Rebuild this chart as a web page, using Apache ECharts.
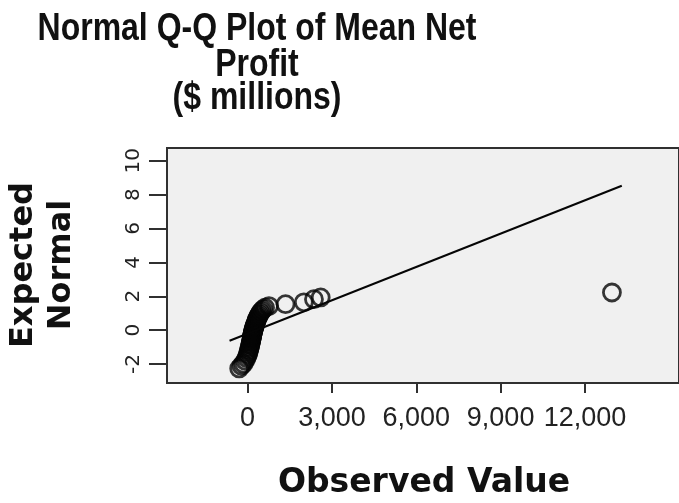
<!DOCTYPE html>
<html>
<head>
<meta charset="utf-8">
<script src="https://cdn.jsdelivr.net/npm/echarts@6/dist/echarts.min.js"></script>
<style>
  html, body { margin: 0; padding: 0; background: #ffffff; }
  #chart { width: 679px; height: 503px; }
</style>
</head>
<body>
<div id="chart"></div>
<script>
// Text content
const titleLines = ['Normal Q-Q Plot of Mean Net', 'Profit', '($ millions)'];
const xAxisTitle = 'Observed Value';
const yAxisTitle = ['Expected', 'Normal'];

// Tick values
const xTicks = [0, 3000, 6000, 9000, 12000];
const yTicks = [-2, 0, 2, 4, 6, 8, 10];

// Observed mean net profit ($ millions), ascending
const observed = [
  -300, -220, -150, -90, -40,
  0, 20, 40, 55, 70,
  85, 95, 105, 115, 125,
  135, 145, 150, 158, 165,
  172, 180, 188, 196, 205,
  215, 225, 235, 246, 258,
  270, 283, 297, 312, 328,
  346, 366, 390, 418, 450,
  490, 545, 620, 760,
  1350, 2000, 2360, 2600, 12960
];

// Expected normal score paired with each observed value
const expected = [
  -2.26, -2.10, -1.98, -1.80, -1.65,
  -1.50, -1.38, -1.26, -1.15, -1.05,
  -0.96, -0.87, -0.79, -0.71, -0.64,
  -0.57, -0.50, -0.44, -0.38, -0.32,
  -0.26, -0.20, -0.14, -0.08, -0.02,
  0.04, 0.10, 0.16, 0.22, 0.28,
  0.34, 0.40, 0.47, 0.54, 0.61,
  0.68, 0.76, 0.84, 0.93, 1.02,
  1.12, 1.22, 1.32, 1.42,
  1.53, 1.64, 1.83, 1.93, 2.22
];

// Reference line (normal expectation) end points
const refLineX = [-643, 13311];
const refLineY = [-0.625, 8.52];

const points = observed.map((v, i) => [v, expected[i]]);
const refLine = refLineX.map((v, i) => [v, refLineY[i]]);

const ink = '#050505';
const titleY = [29, 65, 98];

const chart = echarts.init(document.getElementById('chart'), null, { renderer: 'canvas' });

chart.setOption({
  animation: false,
  backgroundColor: '#ffffff',
  grid: {
    left: 167, right: 0, top: 148, bottom: 120,
    show: true,
    backgroundColor: '#f0f0f0',
    borderColor: '#303030',
    borderWidth: 2
  },
  xAxis: {
    type: 'value',
    min: -2868,
    max: 15346,
    splitLine: { show: false },
    axisLine: { show: false, onZero: false },
    axisTick: {
      show: true,
      customValues: xTicks,
      length: 10,
      lineStyle: { color: '#303030', width: 2 }
    },
    axisLabel: {
      customValues: xTicks,
      formatter: v => Number(v).toLocaleString('en-US'),
      fontFamily: 'Liberation Sans, Arial, sans-serif',
      fontSize: 27,
      color: '#222222',
      margin: 22
    }
  },
  yAxis: {
    type: 'value',
    min: -3.12,
    max: 10.75,
    splitLine: { show: false },
    axisLine: { show: false, onZero: false },
    axisTick: {
      show: true,
      customValues: yTicks,
      length: 18,
      lineStyle: { color: '#303030', width: 2 }
    },
    axisLabel: {
      customValues: yTicks,
      rotate: 90,
      fontFamily: 'DejaVu Sans, sans-serif',
      fontSize: 20,
      color: '#222222',
      margin: 23
    }
  },
  series: [
    {
      type: 'scatter',
      data: points,
      symbol: 'circle',
      symbolSize: 17,
      silent: true,
      itemStyle: {
        color: 'rgba(0,0,0,0)',
        borderColor: ink,
        borderWidth: 2.8
      },
      z: 2
    },
    {
      type: 'line',
      data: refLine,
      symbol: 'none',
      silent: true,
      lineStyle: { color: ink, width: 2 },
      z: 3
    }
  ],
  graphic: [
    // Title lines, bold narrow face
    ...titleLines.map((t, i) => ({
      type: 'text',
      x: 257,
      y: titleY[i],
      scaleX: 0.82,
      silent: true,
      style: {
        text: t,
        font: 'bold 39px "Liberation Sans", Arial, sans-serif',
        fill: '#111111',
        align: 'center',
        verticalAlign: 'middle'
      }
    })),
    // Vertical axis title, two lines, reading bottom to top
    {
      type: 'text',
      x: 43,
      y: 265,
      rotation: Math.PI / 2,
      silent: true,
      style: {
        text: yAxisTitle.join('\n'),
        font: 'bold 32px "DejaVu Sans", sans-serif',
        lineHeight: 38,
        fill: '#111111',
        align: 'center',
        verticalAlign: 'middle'
      }
    },
    // Horizontal axis title
    {
      type: 'text',
      x: 424,
      y: 483,
      silent: true,
      style: {
        text: xAxisTitle,
        font: 'bold 33px "DejaVu Sans", sans-serif',
        fill: '#111111',
        align: 'center',
        verticalAlign: 'middle'
      }
    }
  ]
});
</script>
</body>
</html>
